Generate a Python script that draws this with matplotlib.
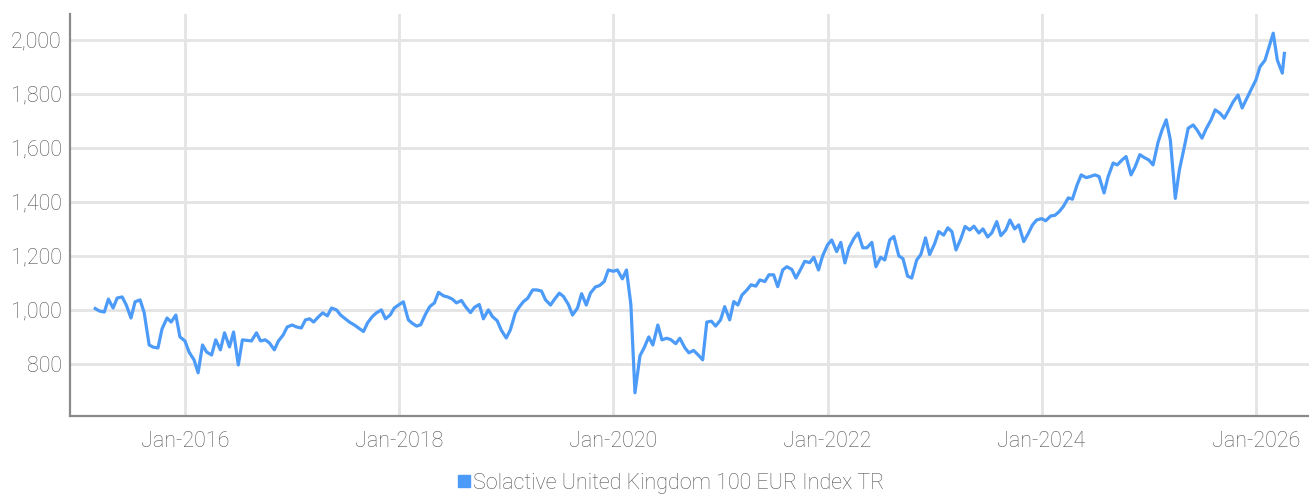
import matplotlib
matplotlib.use('Agg')
import matplotlib.pyplot as plt
import matplotlib.dates as mdates
from matplotlib.ticker import FuncFormatter
from matplotlib.lines import Line2D
import pandas as pd

plt.rcParams['font.family'] = ['Roboto', 'DejaVu Sans']
plt.rcParams['font.weight'] = 'light'

series_name = "Solactive United Kingdom 100 EUR Index TR"

# semi-monthly readings (1st and 15th), Mar 2015 .. Apr 2026
v2015 = [1005, 996, 992, 1040, 1007, 1044, 1048, 1018, 970, 1030, 1037, 990,
         870, 862, 859, 930, 970, 955, 981, 900]
v2016 = [885, 844, 815, 767, 870, 844, 833, 889, 852, 915, 863, 918,
         796, 889, 887, 885, 915, 885, 889, 878, 852, 885, 907, 937]
v2017 = [944, 937, 933, 963, 967, 955, 975, 989, 978, 1007, 1000, 981,
         967, 955, 944, 933, 920, 952, 975, 989, 1000, 967, 981, 1007]
v2018 = [1020, 1030, 963, 950, 940, 945, 985, 1012, 1026, 1065, 1052, 1048,
         1040, 1026, 1035, 1012, 990, 1010, 1020, 967, 1000, 975, 960, 925]
v2019 = [896, 926, 989, 1012, 1031, 1043, 1074, 1074, 1070, 1037, 1018, 1040,
         1062, 1050, 1020, 981, 1007, 1060, 1018, 1062, 1085, 1090, 1105, 1148]
v2020 = [1143, 1148, 1115, 1148, 1020, 693, 830, 859, 900, 870, 944, 889,
         895, 890, 875, 895, 860, 841, 850, 835, 815, 955, 958, 940]
v2021 = [963, 1012, 963, 1031, 1018, 1055, 1074, 1093, 1088, 1111, 1105, 1130,
         1130, 1086, 1148, 1160, 1150, 1118, 1150, 1180, 1175, 1195, 1148, 1200]
v2022 = [1241, 1259, 1216, 1250, 1174, 1230, 1265, 1285, 1230, 1230, 1250, 1160,
         1195, 1185, 1259, 1272, 1200, 1190, 1125, 1118, 1185, 1205, 1267, 1205]
v2023 = [1245, 1290, 1277, 1304, 1290, 1222, 1265, 1309, 1296, 1310, 1285, 1300,
         1270, 1285, 1327, 1275, 1296, 1333, 1300, 1315, 1253, 1280, 1315, 1333]
v2024 = [1338, 1330, 1348, 1350, 1364, 1383, 1415, 1410, 1463, 1500, 1490, 1494,
         1500, 1494, 1433, 1494, 1544, 1537, 1555, 1568, 1500, 1530, 1575, 1565]
v2025 = [1555, 1537, 1620, 1667, 1704, 1630, 1413, 1519, 1600, 1673, 1685, 1665,
         1636, 1670, 1704, 1741, 1728, 1710, 1741, 1770, 1796, 1748, 1784, 1815]
v2026 = [1852, 1901, 1925, 1975, 2025, 1925, 1877, 1950]

values = v2015 + v2016 + v2017 + v2018 + v2019 + v2020 + v2021 + v2022 + v2023 + v2024 + v2025 + v2026
dates = list(pd.date_range('2015-03-01', '2026-04-01', freq='SMS')) + [pd.Timestamp('2026-04-08')]

line_col = '#4C9BF8'
txt_col = '#545454'

fig = plt.figure(figsize=(13.09, 4.98), dpi=100)
ax = fig.add_axes([70 / 1309, 1 - 416 / 498, 1 - 70 / 1309, 402 / 498])

ax.plot(dates, values, color=line_col, lw=2.3, zorder=3)

ax.set_ylim(607, 2096)
ax.set_xlim(pd.Timestamp('2014-12-05'), pd.Timestamp('2026-07-01'))
ax.set_yticks([800, 1000, 1200, 1400, 1600, 1800, 2000])
ax.yaxis.set_major_formatter(FuncFormatter(lambda v, p: '{:,.0f}'.format(v)))
ax.xaxis.set_major_locator(mdates.YearLocator(2))
ax.xaxis.set_major_formatter(mdates.DateFormatter('%b-%Y'))

ax.grid(True, color='#e4e4e4', lw=2.0, zorder=0)
for s in ['top', 'right']:
    ax.spines[s].set_visible(False)
ax.spines['left'].set_color('#8a8a8a')
ax.spines['left'].set_linewidth(1.6)
ax.spines['bottom'].set_color('#8a8a8a')
ax.spines['bottom'].set_linewidth(1.6)
ax.tick_params(axis='both', length=0, labelsize=15.5, colors=txt_col)
ax.tick_params(axis='y', pad=6)
ax.tick_params(axis='x', pad=11)

handle = Line2D([], [], marker='s', color=line_col, ls='none', markersize=8)
fig.legend([handle], [series_name], loc='center', bbox_to_anchor=(670 / 1309, 1 - 483 / 498),
           frameon=False, fontsize=15.5, labelcolor=txt_col, handletextpad=0.0,
           handlelength=0.8, borderaxespad=0)

fig.savefig('out.png', dpi=100)
